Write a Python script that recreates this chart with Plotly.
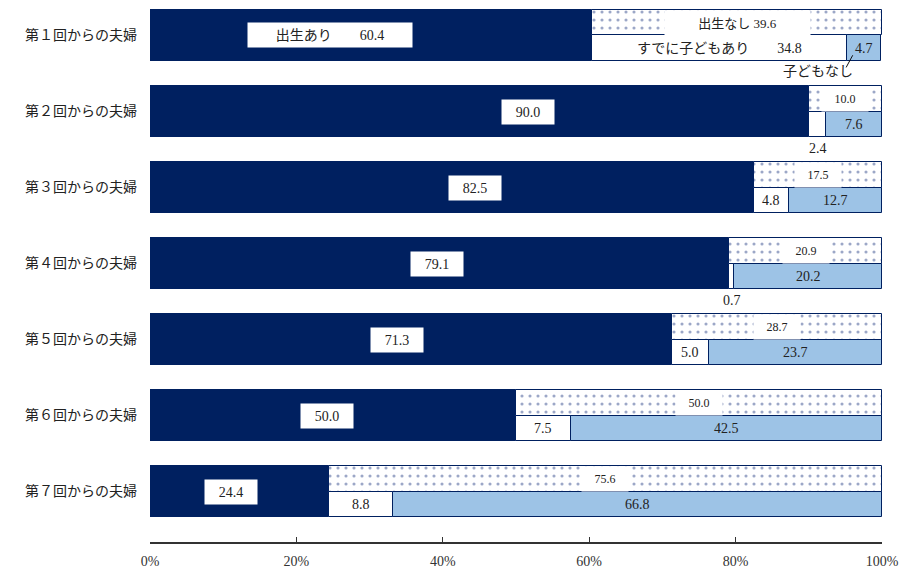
import plotly.graph_objects as go

categories = ["第１回からの夫婦", "第２回からの夫婦", "第３回からの夫婦", "第４回からの夫婦",
              "第５回からの夫婦", "第６回からの夫婦", "第７回からの夫婦"]
birth_yes = [60.4, 90.0, 82.5, 79.1, 71.3, 50.0, 24.4]      # 出生あり
birth_no = [39.6, 10.0, 17.5, 20.9, 28.7, 50.0, 75.6]       # 出生なし
no_had_child = [34.8, 2.4, 4.8, 0.7, 5.0, 7.5, 8.8]         # すでに子どもあり
no_childless = [4.7, 7.6, 12.7, 20.2, 23.7, 42.5, 66.8]     # 子どもなし
tick_values = [0, 20, 40, 60, 80, 100]

# label placement (style)
yes_label_pos = [24.6, 51.6, 44.4, 39.2, 33.7, 24.2, 11.1]

NAVY = "#002060"
BLUE = "#9DC3E6"
FONT = "Liberation Serif, Noto Sans CJK JP, serif"

ypos = list(range(len(categories)))
W = 0.671
H = W / 2

fig = go.Figure()
fig.add_trace(go.Bar(y=ypos, x=birth_yes, base=[0] * 7, orientation="h", width=W,
                     marker=dict(color=NAVY, line=dict(color=NAVY, width=1)),
                     name="出生あり", hoverinfo="x"))
fig.add_trace(go.Bar(y=ypos, x=birth_no, base=birth_yes, orientation="h", width=H, offset=-H,
                     marker=dict(color="white", line=dict(color=NAVY, width=1),
                                 pattern=dict(shape=".", fgcolor="#3A4F8F", bgcolor="white",
                                              size=8, solidity=0.12)),
                     name="出生なし", hoverinfo="x"))
fig.add_trace(go.Bar(y=ypos, x=no_had_child, base=birth_yes, orientation="h", width=H, offset=0,
                     marker=dict(color="white", line=dict(color=NAVY, width=1)),
                     name="すでに子どもあり", hoverinfo="x"))
base4 = [a + b for a, b in zip(birth_yes, no_had_child)]
fig.add_trace(go.Bar(y=ypos, x=no_childless, base=base4, orientation="h", width=H, offset=0,
                     marker=dict(color=BLUE, line=dict(color=NAVY, width=1)),
                     name="子どもなし", hoverinfo="x"))

ann = []
for i in range(7):
    # 出生あり label
    txt = f"出生あり　　{birth_yes[i]:.1f}" if i == 0 else f"{birth_yes[i]:.1f}"
    ann.append(dict(x=yes_label_pos[i], y=i, text=txt, showarrow=False, bgcolor="white",
                    width=162 if i == 0 else 50, height=22,
                    font=dict(family=FONT, size=14, color="#222")))
    # 出生なし label (top half)
    txt = f"出生なし {birth_no[i]:.1f}" if i == 0 else f"{birth_no[i]:.1f}"
    ann.append(dict(x=birth_yes[i] + birth_no[i] / 2, y=i - H / 2, text=txt, showarrow=False,
                    bgcolor="white", width=143 if i == 0 else 44, height=22,
                    font=dict(family=FONT, size=13 if i == 0 else 12, color="#222")))
    # すでに子どもあり
    xc = birth_yes[i] + no_had_child[i] / 2
    if no_had_child[i] < 3:
        ann.append(dict(x=xc, y=i + 0.49, text=f"{no_had_child[i]:.1f}", showarrow=False,
                        font=dict(family=FONT, size=14, color="#222")))
    else:
        txt = f"すでに子どもあり　　{no_had_child[i]:.1f}" if i == 0 else f"{no_had_child[i]:.1f}"
        ann.append(dict(x=xc, y=i + H / 2, text=txt, showarrow=False,
                        font=dict(family=FONT, size=14, color="#222")))
    # 子どもなし
    ann.append(dict(x=base4[i] + no_childless[i] / 2, y=i + H / 2, text=f"{no_childless[i]:.1f}",
                    showarrow=False, font=dict(family=FONT, size=14, color="#222")))

# callout for 子どもなし in row 1
ann.append(dict(x=91.3, y=0.48, text="子どもなし", showarrow=False,
                font=dict(family=FONT, size=14, color="#222")))

fig.update_layout(
    annotations=ann,
    shapes=[dict(type="line", xref="x", yref="y", x0=95.1, y0=0.42, x1=96.0, y1=0.26,
                 line=dict(color="#111", width=1))],
    barmode="overlay",
    width=900, height=568,
    margin=dict(l=150, r=18, t=0, b=26),
    plot_bgcolor="white", paper_bgcolor="white",
    showlegend=False,
    bargap=0,
)
fig.update_xaxes(range=[0, 100], tickvals=tick_values, ticktext=[f"{v}%" for v in tick_values],
                 showgrid=False, zeroline=False, showline=True, linecolor="#333", linewidth=1.5,
                 ticks="inside", ticklen=5, tickcolor="#333", tickwidth=1.2,
                 ticklabelstandoff=5,
                 tickfont=dict(family=FONT, size=14, color="#333"))
fig.update_yaxes(range=[6.664, -0.467], tickvals=ypos, ticktext=categories, showgrid=False,
                 zeroline=False, showline=False, ticks="", ticklabelstandoff=12,
                 tickfont=dict(family=FONT, size=14, color="#222"))

fig.write_html("out.html")
